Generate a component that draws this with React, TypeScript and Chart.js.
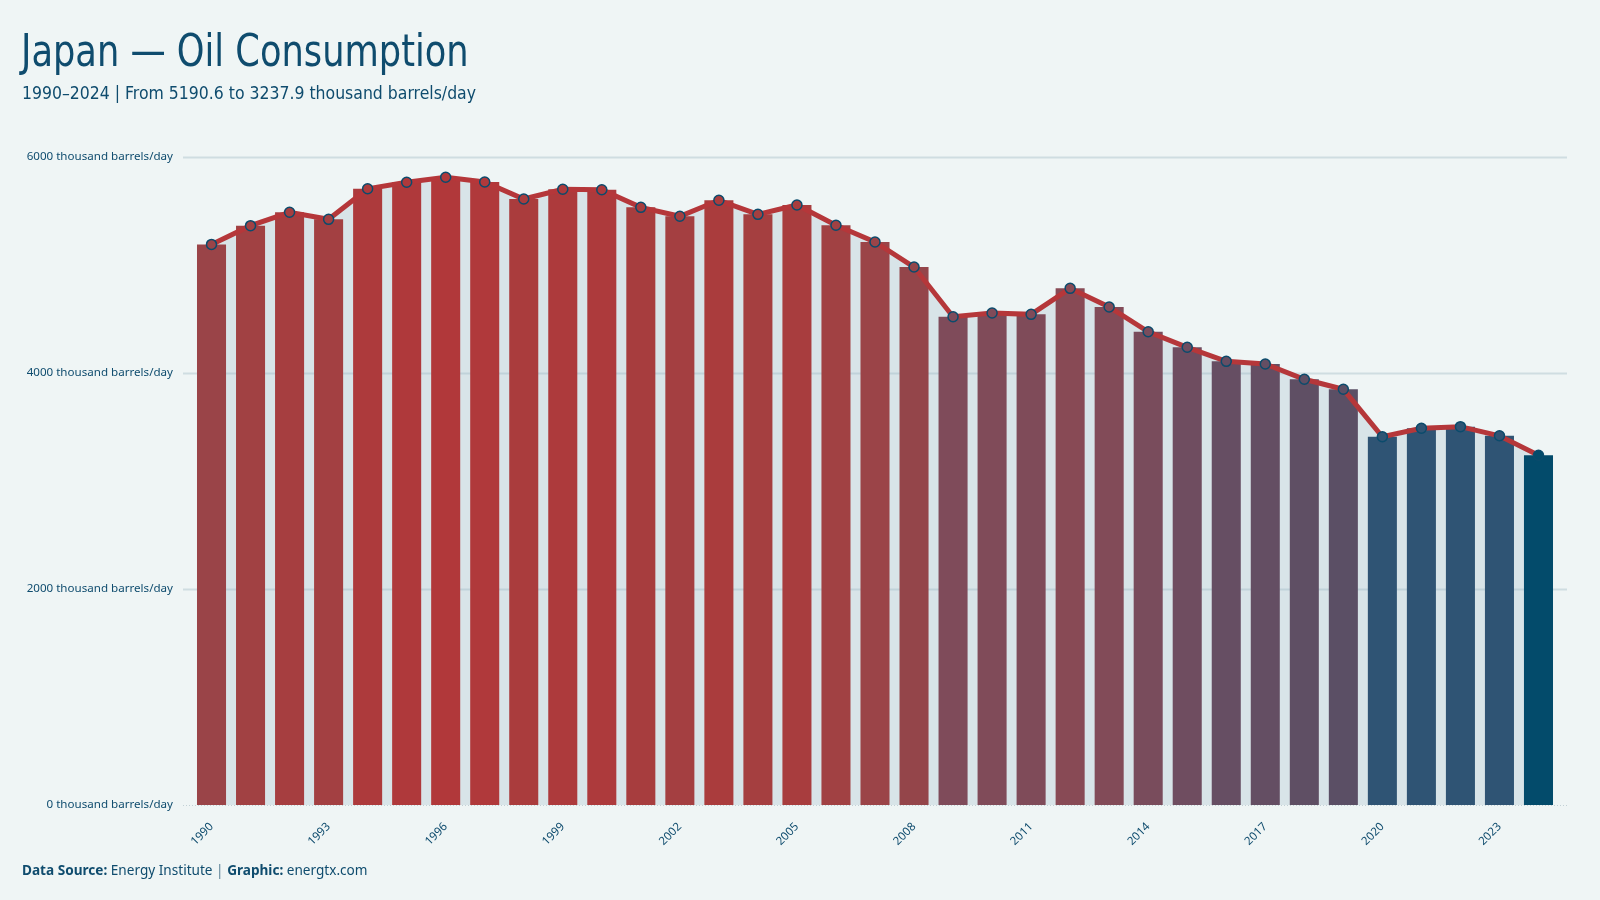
import React, { useEffect, useRef } from "react";
import { Chart, registerables } from "chart.js";

Chart.register(...registerables);

// Japan oil consumption, thousand barrels/day
const years = [
  "1990", "1991", "1992", "1993", "1994", "1995", "1996", "1997", "1998", "1999",
  "2000", "2001", "2002", "2003", "2004", "2005", "2006", "2007", "2008", "2009",
  "2010", "2011", "2012", "2013", "2014", "2015", "2016", "2017", "2018", "2019",
  "2020", "2021", "2022", "2023", "2024",
];
const consumption = [
  5190.6, 5364, 5488, 5423, 5706, 5766, 5812, 5769, 5611, 5701,
  5697, 5534, 5451, 5599, 5469, 5556, 5368, 5213, 4981, 4521,
  4556, 4543, 4784, 4611, 4382, 4238, 4108, 4083, 3942, 3849,
  3410, 3488, 3503, 3419, 3237.9,
];
const yTickValues = [0, 2000, 4000, 6000];
const xLabelEvery = 3;
const unit = "thousand barrels/day";

// value → colour ramp for the bars (low = slate blue, high = brick red)
const rampValues = [3520, 3850, 4100, 4400, 4800, 5000, 5200, 5550, 5812];
const rampColors = ["#2f5474", "#5b4f65", "#654e63", "#7a4c5c", "#894a55", "#954549", "#9a4448", "#a83d3e", "#b1383a"];
const latestColor = "#034b6b";

const INK = "#0f4c6e";
const BG = "#eff5f5";

function hexToRgb(h: string) {
  const n = parseInt(h.slice(1), 16);
  return [(n >> 16) & 255, (n >> 8) & 255, n & 255];
}

function rampColor(v: number) {
  if (v <= rampValues[0]) return rampColors[0];
  for (let i = 1; i < rampValues.length; i++) {
    if (v <= rampValues[i]) {
      const t = (v - rampValues[i - 1]) / (rampValues[i] - rampValues[i - 1]);
      const a = hexToRgb(rampColors[i - 1]);
      const b = hexToRgb(rampColors[i]);
      const c = a.map((x, k) => Math.round(x + (b[k] - x) * t));
      return `rgb(${c[0]},${c[1]},${c[2]})`;
    }
  }
  return rampColors[rampColors.length - 1];
}

const barColors = consumption.map((v, i) => (i === consumption.length - 1 ? latestColor : rampColor(v)));

// Horizontal guide lines that run slightly past the plot area on both sides
const guideLines = {
  id: "guideLines",
  beforeDatasetsDraw(chart: any) {
    const { ctx, chartArea, scales } = chart;
    const y = scales.y;
    ctx.save();
    for (const v of yTickValues) {
      const py = Math.round(y.getPixelForValue(v)) + 0.5;
      ctx.beginPath();
      if (v === 0) {
        ctx.setLineDash([1, 2]);
        ctx.strokeStyle = "#c2d0d5";
        ctx.lineWidth = 1;
      } else {
        ctx.setLineDash([]);
        ctx.strokeStyle = "rgba(150,178,190,0.35)";
        ctx.lineWidth = 2;
      }
      ctx.moveTo(chartArea.left - 9, py);
      ctx.lineTo(chartArea.right + 9, py);
      ctx.stroke();
    }
    ctx.restore();
  },
};

function OilChart() {
  const ref = useRef<HTMLCanvasElement | null>(null);

  useEffect(() => {
    if (!ref.current) return;
    const chart = new Chart(ref.current, {
      type: "bar",
      data: {
        labels: years,
        datasets: [
          {
            type: "line",
            data: consumption,
            order: 1,
            borderColor: "#b5373a",
            borderWidth: 5,
            tension: 0,
            fill: "origin",
            backgroundColor: "#d8e4e8",
            pointRadius: 5,
            pointBorderWidth: 1.5,
            pointBorderColor: "#0b4b6c",
            pointBackgroundColor: barColors,
            clip: false,
          } as any,
          {
            type: "bar",
            data: consumption,
            order: 2,
            backgroundColor: barColors,
            borderWidth: 0,
            barPercentage: 0.744,
            categoryPercentage: 1,
          },
        ],
      },
      options: {
        responsive: false,
        animation: false,
        devicePixelRatio: 1,
        layout: { padding: { left: 0, top: 157, right: 42, bottom: 0 } },
        plugins: {
          legend: { display: false },
          tooltip: { enabled: false },
          filler: { drawTime: "beforeDatasetsDraw" },
        },
        scales: {
          x: {
            grid: { display: false },
            border: { display: false },
            afterFit: (s: any) => {
              s.height = 95;
            },
            ticks: {
              autoSkip: false,
              minRotation: 45,
              maxRotation: 45,
              padding: 7,
              color: INK,
              font: { family: "'Noto Sans', sans-serif", size: 11.5 },
              callback: (_v: any, i: number) => (i % xLabelEvery === 0 ? years[i] : ""),
            },
          },
          y: {
            min: 0,
            max: 6000,
            grid: { display: false, drawTicks: false },
            border: { display: false },
            afterFit: (s: any) => {
              s.width = 192;
            },
            afterBuildTicks: (s: any) => {
              s.ticks = yTickValues.map((v) => ({ value: v }));
            },
            ticks: {
              padding: 19,
              color: INK,
              font: { family: "'Noto Sans', sans-serif", size: 11.6 },
              callback: (v: any) => `${v} ${unit}`,
            },
          },
        },
      },
      plugins: [guideLines],
    });
    return () => chart.destroy();
  }, []);

  return (
    <canvas
      ref={ref}
      width={1600}
      height={900}
      style={{ position: "absolute", left: 0, top: 0, width: 1600, height: 900 }}
    />
  );
}

export default function App() {
  const condensed = "'Liberation Sans Narrow', 'DejaVu Sans Condensed', 'Roboto', sans-serif";
  return (
    <div
      style={{
        position: "absolute",
        left: 0,
        top: 0,
        width: 1600,
        height: 900,
        background: BG,
        overflow: "hidden",
      }}
    >
      <OilChart />
      <div
        style={{
          position: "absolute",
          left: 21,
          top: 28,
          fontFamily: condensed,
          fontSize: 45,
          lineHeight: "45px",
          color: INK,
          whiteSpace: "nowrap",
          transform: "scaleX(0.87)",
          transformOrigin: "left top",
        }}
      >
        Japan — Oil Consumption
      </div>
      <div
        style={{
          position: "absolute",
          left: 22,
          top: 84,
          fontFamily: condensed,
          fontSize: 18,
          lineHeight: "18px",
          color: INK,
          whiteSpace: "nowrap",
          transform: "scaleX(0.97)",
          transformOrigin: "left top",
        }}
      >
        1990–2024 | From 5190.6 to 3237.9 thousand barrels/day
      </div>
      <div
        style={{
          position: "absolute",
          left: 22,
          top: 863,
          fontFamily: "'Noto Sans', sans-serif",
          fontSize: 13.6,
          lineHeight: "13px",
          color: INK,
          whiteSpace: "nowrap",
        }}
      >
        <b>Data Source:</b> Energy Institute <span style={{ color: "#5a7f94" }}>|</span> <b>Graphic:</b> energtx.com
      </div>
    </div>
  );
}
